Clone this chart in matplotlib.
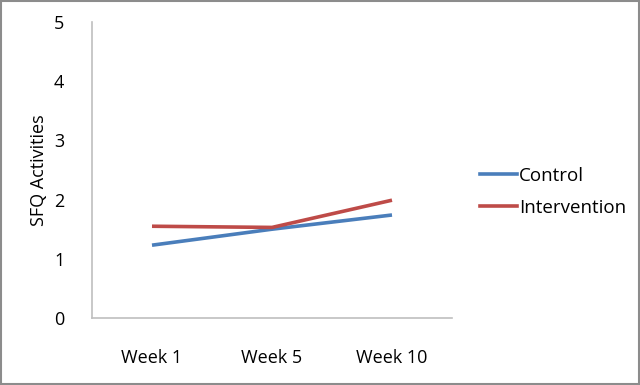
import matplotlib
matplotlib.use("Agg")
import matplotlib.pyplot as plt
from matplotlib.lines import Line2D
from matplotlib.patches import Rectangle

# values
weeks = ['Week 1', 'Week 5', 'Week 10']
control = [1.23, 1.50, 1.74]
intervention = [1.55, 1.53, 1.99]
y_ticks = [0, 1, 2, 3, 4, 5]

plt.rcParams['font.family'] = ['Open Sans', 'DejaVu Sans']

fig = plt.figure(figsize=(6.4, 3.85), dpi=100)
# axes box: x 92..452 px, y 22..318 px
ax = fig.add_axes([92 / 640, 1 - 318 / 385, 360 / 640, 296 / 385])

x = range(len(weeks))
ax.plot(x, control, color='#4A7EBB', lw=2.6, solid_capstyle='butt', label='Control')
ax.plot(x, intervention, color='#BE4B48', lw=2.6, solid_capstyle='butt', label='Intervention')

ax.set_xlim(-0.5, 2.5)
ax.set_ylim(0, 5)
ax.set_xticks(list(x))
ax.set_xticklabels(weeks, fontsize=13)
ax.set_yticks(y_ticks)
ax.set_yticklabels([str(v) for v in y_ticks], fontsize=13)
ax.tick_params(length=0)
ax.tick_params(axis='x', pad=22)
ax.tick_params(axis='y', pad=20)
for s in ['top', 'right']:
    ax.spines[s].set_visible(False)
for s in ['left', 'bottom']:
    ax.spines[s].set_color('#BFBFBF')
    ax.spines[s].set_linewidth(1.2)

ax.set_ylabel('SFQ Activities', fontsize=13)
ax.yaxis.set_label_coords(-44 / 360, 0.5)

handles = [Line2D([], [], color='#4A7EBB', lw=2.6),
           Line2D([], [], color='#BE4B48', lw=2.6)]
fig.legend(handles, ['Control', 'Intervention'], loc='center left',
           bbox_to_anchor=(463 / 640, 1 - 192 / 385), frameon=False,
           fontsize=13.5, handlelength=2.0, handletextpad=0.1, labelspacing=0.75)

# outer chart border
fig.patches.append(Rectangle((0.002, 0.003), 0.996, 0.994, transform=fig.transFigure,
                             fill=False, edgecolor='#8C8C8C', lw=1.5))

fig.savefig('out.png', dpi=100)
